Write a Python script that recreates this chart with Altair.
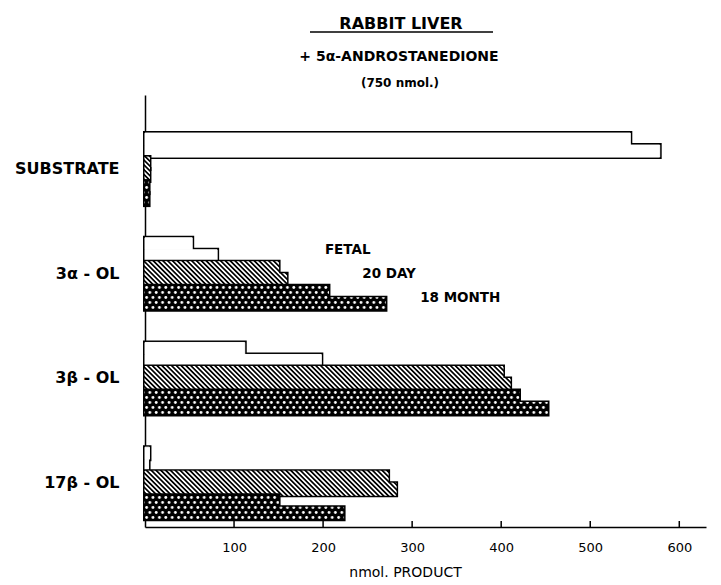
import altair as alt
import pandas as pd
import jinja2

# ---------------- data ----------------
CATEGORIES = ["SUBSTRATE", "3α - OL", "3β - OL", "17β - OL"]
AGES = ["FETAL", "20 DAY", "18 MONTH"]
# two determinations per age group (upper / lower bar), nmol product
FETAL_UPPER = [545, 53, 112, 5]
FETAL_LOWER = [578, 81, 198, 4]
DAY20_UPPER = [5, 150, 402, 273]
DAY20_LOWER = [5, 159, 410, 282]
MONTH18_UPPER = [4, 206, 420, 150]
MONTH18_LOWER = [4, 270, 452, 223]
TICK_VALUES = [100, 200, 300, 400, 500, 600]
ANNOT_CATEGORY = "3α - OL"
ANNOT_X = [202, 244, 309]
TITLE = "RABBIT LIVER"
SUBTITLE = ["+ 5α-ANDROSTANEDIONE", "(750 nmol.)"]
X_TITLE = "nmol. PRODUCT"

FONT = "DejaVu Sans"

series = {
    "FETAL": (FETAL_UPPER, FETAL_LOWER),
    "20 DAY": (DAY20_UPPER, DAY20_LOWER),
    "18 MONTH": (MONTH18_UPPER, MONTH18_LOWER),
}
SLOTS = [f"{a} {r}" for a in AGES for r in ("a", "b")]
rows = []
for age in AGES:
    up, lo = series[age]
    for i, cat in enumerate(CATEGORIES):
        rows.append({"category": cat, "age": age, "slot": f"{age} a", "value": up[i]})
        rows.append({"category": cat, "age": age, "slot": f"{age} b", "value": lo[i]})
bars = pd.DataFrame(rows)

ticks = pd.DataFrame({"value": TICK_VALUES})
annots = pd.DataFrame({
    "category": [ANNOT_CATEGORY] * 3,
    "slot": [f"{a} a" for a in AGES],
    "value": ANNOT_X,
    "label": AGES,
})

# ---------------- encodings ----------------
x_enc = alt.X(
    "value:Q",
    title=X_TITLE,
    scale=alt.Scale(domain=[0, 630], nice=False, zero=True),
    axis=alt.Axis(
        values=TICK_VALUES, ticks=False, grid=False,
        domainColor="black", domainWidth=1.5,
        labelFont=FONT, labelFontSize=13, labelColor="black", labelPadding=14,
        labelFlush=False,
        titleFont=FONT, titleFontSize=14, titleFontWeight="normal",
        titleColor="black", titleX=260, titlePadding=11,
    ),
)
y_enc = alt.Y(
    "category:N",
    title=None,
    sort=CATEGORIES,
    scale=alt.Scale(domain=CATEGORIES, paddingInner=0.312, paddingOuter=0.219, align=0.83),
    axis=alt.Axis(
        ticks=False, grid=False, domainColor="black", domainWidth=1.5,
        labelFont=FONT, labelFontSize=16, labelFontWeight="bold",
        labelColor="black", labelPadding=26, labelLimit=300,
    ),
)
yoff = alt.YOffset(
    "slot:N", sort=SLOTS,
    scale=alt.Scale(domain=SLOTS, paddingInner=0, paddingOuter=0),
)

FILLS = {"FETAL": "white", "20 DAY": "url(#hatch)", "18 MONTH": "url(#cross)"}

layers = []
for age in AGES:
    sub = alt.Chart(bars).transform_filter(alt.datum.age == age)
    layers.append(
        sub.mark_bar(fill="black", stroke="black", strokeWidth=4)
        .encode(x=x_enc, y=y_enc, yOffset=yoff)
    )
    layers.append(
        sub.mark_bar(fill=FILLS[age], stroke=FILLS[age], strokeWidth=1)
        .encode(x=x_enc, y=y_enc, yOffset=yoff)
    )

tick_marks = alt.Chart(ticks).mark_rule(color="black", strokeWidth=1.5).encode(
    x=x_enc, y=alt.value(432), y2=alt.value(426)
)
annot_text = alt.Chart(annots).mark_text(
    align="left", baseline="middle", dy=6, font=FONT, fontSize=13.5,
    fontWeight="bold", color="black",
).encode(x=x_enc, y=y_enc, yOffset=yoff, text="label:N")

# header (title block above the plot)
header = pd.DataFrame({
    "text": [TITLE] + SUBTITLE,
    "line": [0, 1, 2],
})
title_text = alt.Chart(header).transform_filter(alt.datum.line == 0).mark_text(
    align="center", baseline="alphabetic", font=FONT, fontSize=16,
    fontWeight="bold", color="black",
).encode(text="text:N", x=alt.value(256), y=alt.value(-66.5))
sub1_text = alt.Chart(header).transform_filter(alt.datum.line == 1).mark_text(
    align="center", baseline="alphabetic", font=FONT, fontSize=14,
    fontWeight="bold", color="black",
).encode(text="text:N", x=alt.value(254), y=alt.value(-34.5))
sub2_text = alt.Chart(header).transform_filter(alt.datum.line == 2).mark_text(
    align="center", baseline="alphabetic", font=FONT, fontSize=12,
    fontWeight="bold", color="black",
).encode(text="text:N", x=alt.value(255), y=alt.value(-8))
underline = alt.Chart(header).transform_filter(alt.datum.line == 0).mark_rule(
    color="black", strokeWidth=1.5
).encode(x=alt.value(165), x2=alt.value(348), y=alt.value(-63))

chart = alt.layer(
    *layers, tick_marks, annot_text, title_text, sub1_text, sub2_text, underline
).properties(
    width=561,
    height=432,
    autosize=alt.AutoSizeParams(type="none"),
    padding={"left": 137, "top": 87, "right": 7, "bottom": 50},
).configure_view(stroke=None)

PAGE = jinja2.Template("""<!DOCTYPE html>
<html>
<head>
  <meta charset="utf-8">
  <style>
    #{{ output_div }}.vega-embed { width: 100%; display: flex; }
    #{{ output_div }} svg { overflow: visible; }
  </style>
  <script type="text/javascript" src="{{ base_url }}/vega@{{ vega_version }}"></script>
  <script type="text/javascript" src="{{ base_url }}/vega-lite@{{ vegalite_version }}"></script>
  <script type="text/javascript" src="{{ base_url }}/vega-embed@{{ vegaembed_version }}"></script>
</head>
<body>
  <svg width="0" height="0" style="position:absolute;left:0;top:0" aria-hidden="true">
    <defs>
      <pattern id="hatch" patternUnits="userSpaceOnUse" width="3.4" height="3.4" patternTransform="rotate(-45)">
        <rect width="3.4" height="3.4" fill="white"/>
        <rect width="1.7" height="3.4" fill="black"/>
      </pattern>
      <pattern id="cross" patternUnits="userSpaceOnUse" width="6.4" height="10">
        <rect width="6.4" height="10" fill="black"/>
        <circle cx="1.6" cy="2.5" r="1.4" fill="white"/>
        <circle cx="4.8" cy="7.5" r="1.4" fill="white"/>
      </pattern>
    </defs>
  </svg>
  <div id="{{ output_div }}"></div>
  <script>
    (function(vegaEmbed) {
      var spec = {{ spec }};
      var embedOpt = {{ embed_options }};
      function showError(el, error){
        el.innerHTML = '<div style="color:red;"><p>JavaScript Error: ' + error.message + '</p></div>';
        throw error;
      }
      const el = document.getElementById('{{ output_div }}');
      vegaEmbed("#{{ output_div }}", spec, embedOpt).catch(error => showError(el, error));
    })(vegaEmbed);
  </script>
</body>
</html>
""")

chart.save("out.html", embed_options={"renderer": "svg", "actions": False}, template=PAGE)
